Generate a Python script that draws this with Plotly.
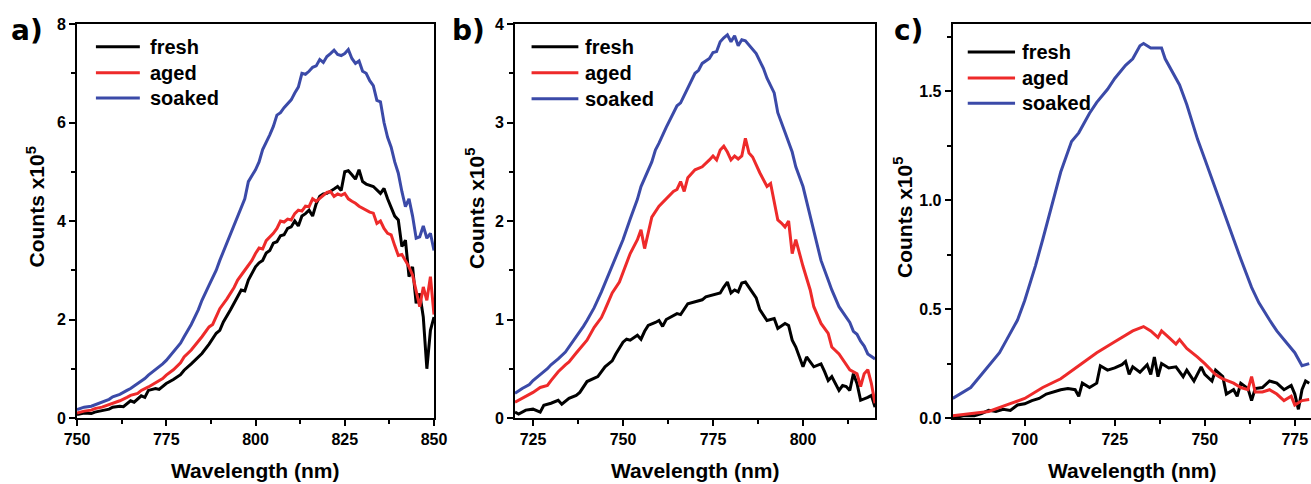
import plotly.graph_objects as go

# ---------------- data (counts x10^5) ----------------
# panel a
a_fresh_x = [750,752,754,755,757,759,760,762,763,765,766,768,769,770,772,773,775,777,779,780,782,784,785,787,789,790,791,793,795,796,797,798,800,801,802,803,804,805,806,807,808,809,810,811,812,813,814,815,816,817,818,819,820,821,822,823,824,825,826,827,828,829,830,831,833,835,836,837,838,839,840,841,842,843,844,845,846,847,848,849,850]
a_fresh_y = [0.07,0.10,0.09,0.12,0.15,0.18,0.22,0.24,0.23,0.35,0.32,0.45,0.42,0.56,0.60,0.58,0.70,0.78,0.88,0.97,1.10,1.24,1.31,1.50,1.72,1.78,1.95,2.20,2.46,2.60,2.58,2.80,3.07,3.15,3.20,3.35,3.40,3.55,3.58,3.70,3.72,3.85,3.88,4.00,3.90,4.10,4.15,4.22,4.10,4.35,4.50,4.55,4.56,4.60,4.65,4.70,4.62,5.00,5.02,4.94,4.85,5.04,4.80,4.75,4.70,4.56,4.66,4.45,4.29,4.10,4.02,3.48,3.61,2.87,3.07,2.33,2.53,2.05,1.00,1.78,2.05]
a_aged_x = [750,752,754,755,757,759,760,762,764,765,767,768,770,772,774,775,777,779,780,782,784,785,787,788,790,792,794,795,797,799,800,801,802,803,805,806,807,808,809,810,811,812,813,814,815,816,817,818,819,820,821,822,823,824,825,826,827,828,829,830,831,832,833,834,835,836,837,838,839,840,841,842,843,844,845,846,847,848,849,850]
a_aged_y = [0.10,0.14,0.16,0.19,0.22,0.27,0.29,0.35,0.42,0.46,0.50,0.56,0.63,0.72,0.80,0.87,0.98,1.12,1.24,1.38,1.55,1.65,1.85,1.90,2.22,2.42,2.65,2.80,3.00,3.20,3.34,3.45,3.43,3.60,3.75,3.85,4.00,3.98,4.04,4.02,4.15,4.22,4.20,4.30,4.29,4.45,4.40,4.46,4.52,4.58,4.60,4.50,4.55,4.52,4.56,4.45,4.40,4.36,4.30,4.26,4.22,4.18,4.16,3.95,4.00,3.85,3.75,3.72,3.50,3.30,3.32,3.20,3.07,2.90,2.60,2.26,2.66,2.39,2.87,2.10]
a_soaked_x = [750,752,754,755,757,759,760,762,764,765,767,769,770,772,774,775,777,779,780,782,784,785,787,789,790,792,794,795,797,798,800,801,802,804,805,806,807,808,810,811,812,813,814,815,816,817,818,819,820,821,822,823,824,825,826,827,828,829,830,831,832,833,834,835,836,837,838,839,840,841,842,843,844,845,846,847,848,849,850]
a_soaked_y = [0.17,0.22,0.24,0.27,0.32,0.38,0.43,0.48,0.56,0.60,0.70,0.80,0.87,0.98,1.10,1.17,1.35,1.52,1.65,1.90,2.20,2.39,2.70,3.00,3.20,3.55,3.90,4.09,4.45,4.80,5.04,5.20,5.45,5.75,5.92,6.15,6.20,6.30,6.46,6.60,6.72,7.00,6.98,7.04,7.12,7.15,7.28,7.22,7.34,7.40,7.47,7.38,7.36,7.40,7.48,7.30,7.20,7.25,7.04,7.00,6.85,6.75,6.45,6.42,6.00,5.70,5.50,5.20,4.97,4.60,4.29,4.45,4.10,3.65,3.68,3.90,3.65,3.75,3.40]

# panel b
b_fresh_x = [720,721,723,725,727,728,730,732,733,735,737,738,740,742,743,745,747,748,750,751,752,754,755,756,757,759,760,761,762,765,766,768,770,772,773,775,777,778,779,780,781,782,783,784,785,787,788,790,792,793,795,796,797,798,800,801,803,805,806,807,808,810,811,812,813,814,815,816,818,819,820]
b_fresh_y = [0.06,0.04,0.08,0.09,0.06,0.13,0.15,0.18,0.14,0.20,0.23,0.26,0.37,0.40,0.42,0.52,0.58,0.65,0.77,0.80,0.79,0.84,0.80,0.88,0.94,0.97,0.99,0.93,1.00,1.06,1.05,1.16,1.18,1.20,1.23,1.25,1.27,1.33,1.38,1.27,1.30,1.28,1.37,1.38,1.33,1.22,1.10,0.99,1.01,0.91,0.96,0.94,0.79,0.72,0.52,0.62,0.52,0.55,0.47,0.38,0.42,0.28,0.33,0.32,0.28,0.45,0.35,0.18,0.21,0.23,0.11]
b_aged_x = [720,722,724,725,727,729,730,732,734,735,737,739,740,742,744,745,747,749,750,752,754,755,756,758,760,762,764,765,766,767,768,770,772,774,775,776,777,778,779,780,781,782,783,784,785,786,788,790,791,793,794,795,796,797,798,800,802,803,805,807,808,810,811,813,815,816,817,818,819,820]
b_aged_y = [0.16,0.20,0.24,0.26,0.31,0.33,0.38,0.47,0.54,0.57,0.66,0.75,0.79,0.92,1.02,1.10,1.27,1.38,1.47,1.67,1.81,1.91,1.72,2.04,2.15,2.22,2.30,2.32,2.40,2.30,2.44,2.52,2.55,2.62,2.66,2.62,2.72,2.76,2.70,2.62,2.66,2.63,2.66,2.84,2.69,2.65,2.49,2.35,2.38,2.01,1.98,1.94,2.00,1.67,1.81,1.54,1.30,1.13,0.96,0.86,0.72,0.65,0.60,0.49,0.45,0.32,0.45,0.49,0.35,0.15]
b_soaked_x = [720,722,724,725,727,729,730,732,734,735,737,739,740,742,744,745,747,749,750,752,754,755,757,758,759,760,762,764,765,766,768,770,771,772,774,775,776,777,778,779,780,781,782,783,784,785,787,789,790,792,793,795,797,798,800,802,804,805,807,808,810,812,813,814,815,816,817,818,820]
b_soaked_y = [0.25,0.30,0.34,0.38,0.44,0.50,0.54,0.60,0.67,0.72,0.83,0.93,0.99,1.12,1.28,1.37,1.55,1.72,1.81,2.02,2.22,2.35,2.52,2.60,2.72,2.79,2.95,3.10,3.17,3.20,3.35,3.50,3.53,3.60,3.65,3.71,3.72,3.82,3.86,3.89,3.82,3.88,3.78,3.84,3.83,3.79,3.70,3.55,3.45,3.30,3.10,2.90,2.70,2.55,2.35,2.05,1.75,1.60,1.40,1.30,1.13,1.02,0.97,0.88,0.85,0.78,0.73,0.65,0.60]

# panel c
c_fresh_x = [680,683,686,688,690,692,694,696,698,700,702,704,706,708,710,712,714,715,716,718,720,721,723,725,727,728,729,730,732,734,735,736,737,738,740,742,744,745,747,749,750,752,753,755,756,758,759,760,762,763,764,766,768,770,772,774,775,776,777,778,779]
c_fresh_y = [0.00,0.01,0.01,0.02,0.035,0.03,0.04,0.035,0.06,0.065,0.08,0.09,0.11,0.12,0.13,0.135,0.13,0.10,0.16,0.14,0.16,0.24,0.22,0.23,0.245,0.26,0.20,0.235,0.21,0.245,0.20,0.28,0.19,0.25,0.23,0.235,0.19,0.22,0.17,0.235,0.20,0.17,0.22,0.19,0.11,0.13,0.10,0.16,0.135,0.08,0.135,0.14,0.17,0.16,0.13,0.15,0.11,0.04,0.13,0.17,0.16]
c_aged_x = [680,685,690,695,700,705,710,715,720,725,728,730,733,735,737,738,740,742,743,745,748,750,753,755,758,760,762,763,764,766,768,770,772,774,775,777,779]
c_aged_y = [0.01,0.02,0.03,0.06,0.09,0.14,0.18,0.24,0.30,0.35,0.38,0.40,0.42,0.40,0.37,0.40,0.37,0.34,0.36,0.32,0.28,0.25,0.20,0.18,0.16,0.14,0.13,0.19,0.12,0.12,0.13,0.11,0.08,0.10,0.06,0.08,0.085]
c_soaked_x = [680,683,685,688,690,693,695,698,700,703,705,708,710,713,715,718,720,723,725,728,730,732,733,735,737,738,739,740,743,745,748,750,753,755,758,760,763,765,768,770,773,775,777,779]
c_soaked_y = [0.09,0.12,0.14,0.20,0.24,0.30,0.36,0.45,0.54,0.70,0.82,1.00,1.13,1.27,1.31,1.40,1.45,1.51,1.56,1.62,1.65,1.71,1.72,1.70,1.70,1.70,1.65,1.62,1.53,1.44,1.28,1.19,1.05,0.96,0.82,0.73,0.60,0.53,0.45,0.40,0.34,0.30,0.24,0.25]

series_names = ["fresh", "aged", "soaked"]
series_colors = ["#000000", "#EE2A2A", "#3B4AA8"]
panel_letters = ["a)", "b)", "c)"]
x_ranges = [[750, 850], [720, 820], [680, 779.5]]
y_ranges = [[0, 8], [0, 4], [0, 1.81]]
x_ticks = [[750, 775, 800, 825, 850], [725, 750, 775, 800], [700, 725, 750, 775]]
y_ticks = [[0, 2, 4, 6, 8], [0, 1, 2, 3, 4], [0.0, 0.5, 1.0, 1.5]]
y_ticktext = [["0", "2", "4", "6", "8"], ["0", "1", "2", "3", "4"], ["0.0", "0.5", "1.0", "1.5"]]
y_minor = [1, 0.5, 0.25]
x_title = "Wavelength (nm)"
y_title = "Counts x10<sup>5</sup>"

panels = [
    [(a_fresh_x, a_fresh_y), (a_aged_x, a_aged_y), (a_soaked_x, a_soaked_y)],
    [(b_fresh_x, b_fresh_y), (b_aged_x, b_aged_y), (b_soaked_x, b_soaked_y)],
    [(c_fresh_x, c_fresh_y), (c_aged_x, c_aged_y), (c_soaked_x, c_soaked_y)],
]

# ---------------- layout geometry ----------------
W, H = 1311, 484
x_domains = [[77 / W, 434 / W], [515 / W, 875 / W], [952.7 / W, 1.0]]
y_domain = [66 / H, 460 / H]
letter_pos = [(27, 31), (468, 31), (908, 30)]
ytitle_pos = [(35.5, 207), (475, 209), (903, 218)]
legend_line = [(0.053, 0.176, 0.199), (0.046, 0.176, 0.190), (0.042, 0.174, 0.188)]
legend_rows = [(0.942, 0.876, 0.812), (0.942, 0.876, 0.810), (0.929, 0.863, 0.799)]

FONT = "Liberation Sans, Arial, sans-serif"
LW = 3

fig = go.Figure()
shapes = []
annotations = []

for p, series in enumerate(panels):
    sfx = "" if p == 0 else str(p + 1)
    xa, ya = "x" + sfx, "y" + sfx
    for s, (xs, ys) in enumerate(series):
        fig.add_trace(go.Scatter(
            x=xs, y=ys, mode="lines", name=series_names[s],
            line=dict(color=series_colors[s], width=LW),
            xaxis=xa, yaxis=ya, showlegend=False,
        ))
        # manual legend entries
        x0, x1, xt = legend_line[p]
        yr = legend_rows[p][s]
        shapes.append(dict(type="line", xref=xa + " domain", yref=ya + " domain",
                           x0=x0, x1=x1, y0=yr, y1=yr,
                           line=dict(color=series_colors[s], width=LW)))
        annotations.append(dict(xref=xa + " domain", yref=ya + " domain", x=xt, y=yr,
                                text=series_names[s], showarrow=False,
                                xanchor="left", yanchor="middle",
                                font=dict(family=FONT, size=20, color="#000", weight="bold")))

    axis_common = dict(showline=True, linecolor="#000", linewidth=2, mirror=True,
                       ticks="outside", ticklen=6, tickwidth=2, tickcolor="#000",
                       showgrid=False, zeroline=False, automargin=False,
                       tickfont=dict(family=FONT, size=16, color="#000", weight="bold"))
    fig.update_layout({
        "xaxis" + sfx: dict(axis_common, domain=x_domains[p], range=x_ranges[p],
                            anchor=ya, tickvals=x_ticks[p],
                            minor=dict(ticks="outside", ticklen=4, tickwidth=1.5,
                                       tickcolor="#000", dtick=12.5, tick0=x_ticks[p][0],
                                       showgrid=False)),
        "yaxis" + sfx: dict(axis_common, domain=y_domain, range=y_ranges[p],
                            anchor=xa, tickvals=y_ticks[p], ticktext=y_ticktext[p],
                            minor=dict(ticks="outside", ticklen=4, tickwidth=1.5,
                                       tickcolor="#000", dtick=y_minor[p], tick0=0,
                                       showgrid=False)),
    })

    # panel letter
    lx, ly = letter_pos[p]
    annotations.append(dict(xref="paper", yref="paper", x=lx / W, y=1 - ly / H,
                            text=panel_letters[p], showarrow=False,
                            xanchor="center", yanchor="middle",
                            font=dict(family="DejaVu Sans, sans-serif", size=28,
                                      color="#000", weight="bold")))
    # x title
    cx = (x_domains[p][0] + x_domains[p][1]) / 2
    annotations.append(dict(xref="paper", yref="paper", x=cx, y=1 - 470 / H,
                            text=x_title, showarrow=False,
                            xanchor="center", yanchor="middle",
                            font=dict(family=FONT, size=21, color="#000", weight="bold")))
    # y title
    tx, ty = ytitle_pos[p]
    annotations.append(dict(xref="paper", yref="paper", x=tx / W, y=1 - ty / H,
                            text=y_title, showarrow=False, textangle=-90,
                            xanchor="center", yanchor="middle",
                            font=dict(family=FONT, size=21, color="#000", weight="bold")))

fig.update_layout(
    width=W, height=H,
    margin=dict(l=0, r=0, t=0, b=0),
    paper_bgcolor="white", plot_bgcolor="white",
    shapes=shapes, annotations=annotations,
    showlegend=False,
)

fig.write_html("out.html",
               config={"displayModeBar": False},
               post_script="document.body.style.margin='0';document.body.style.overflow='hidden';")
